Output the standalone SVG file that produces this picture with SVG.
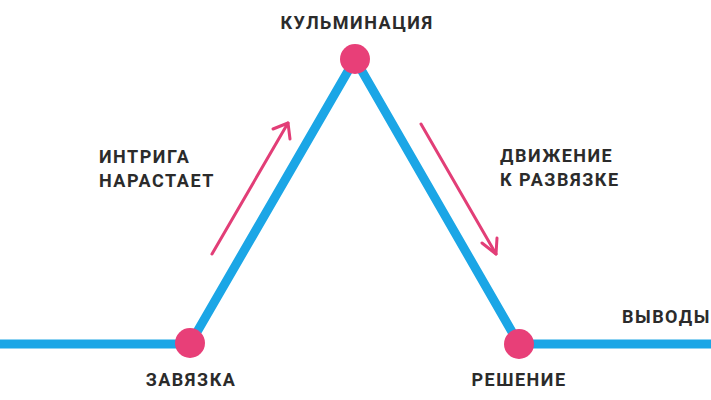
<svg xmlns="http://www.w3.org/2000/svg" width="711" height="400" viewBox="0 0 711 400">
<style>
.t{font-family:Roboto,"Liberation Sans",sans-serif;font-weight:700;font-size:18px;fill:#2b2b2b;letter-spacing:1.5px}
.line{stroke:#1ba6e6;stroke-width:9;fill:none;stroke-linejoin:miter}
.arr{stroke:#e23e77;stroke-width:3;fill:none;stroke-linecap:round;stroke-linejoin:round}
.node{fill:#e83f78}
</style>
<rect width="711" height="400" fill="#fff"/>
<g id="connectors">
<polyline class="line" points="0,344 190,344 355,59 519,344 711,344"/>
<line class="arr" x1="212" y1="254" x2="288" y2="123"/>
<polyline class="arr" points="273,129 288,123 290,139"/>
<line class="arr" x1="421" y1="124" x2="496" y2="254"/>
<polyline class="arr" points="482,243 496,254 497,238"/>
</g>
<g id="node-zavyazka"><circle class="node" cx="190" cy="343" r="15"/><text class="t" x="191" y="386" text-anchor="middle">ЗАВЯЗКА</text></g>
<g id="node-kulminaciya"><circle class="node" cx="355" cy="59" r="15"/><text class="t" x="357" y="29" text-anchor="middle">КУЛЬМИНАЦИЯ</text></g>
<g id="node-reshenie"><circle class="node" cx="519" cy="344" r="15"/><text class="t" x="519" y="386" text-anchor="middle">РЕШЕНИЕ</text></g>
<g id="label-vyvody"><text class="t" x="622" y="323">ВЫВОДЫ</text></g>
<g id="label-intriga"><text class="t" x="99" y="163">ИНТРИГА</text><text class="t" x="99" y="187">НАРАСТАЕТ</text></g>
<g id="label-dvizhenie"><text class="t" x="500" y="162">ДВИЖЕНИЕ</text><text class="t" x="500" y="186">К РАЗВЯЗКЕ</text></g>
</svg>
